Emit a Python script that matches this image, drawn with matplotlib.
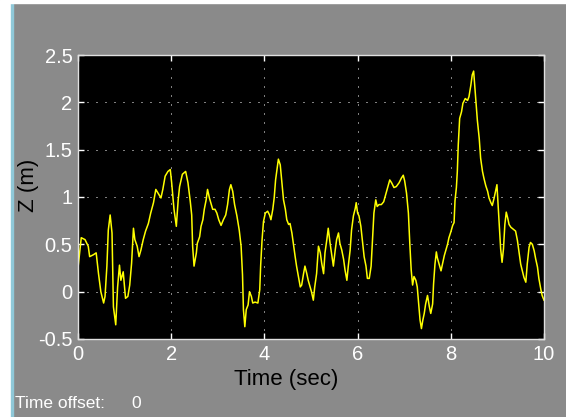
import matplotlib.pyplot as plt
from matplotlib.patches import Rectangle
from matplotlib.ticker import FormatStrFormatter, FuncFormatter

# --- scope trace ---
time_sec = [
    0.00, 0.07, 0.15, 0.22, 0.25, 0.33, 0.39, 0.44, 0.49, 0.55,
    0.58, 0.62, 0.65, 0.69, 0.73, 0.76, 0.81, 0.85, 0.89, 0.92,
    0.97, 1.02, 1.07, 1.11, 1.15, 1.19, 1.22, 1.27, 1.31, 1.35,
    1.40, 1.45, 1.51, 1.56, 1.62, 1.67, 1.72, 1.78, 1.82, 1.87,
    1.93, 1.98, 2.01, 2.06, 2.11, 2.15, 2.18, 2.24, 2.31, 2.36,
    2.41, 2.44, 2.46, 2.49, 2.54, 2.56, 2.61, 2.64, 2.68, 2.71,
    2.75, 2.78, 2.82, 2.85, 2.89, 2.94, 2.98, 3.02, 3.07, 3.12,
    3.17, 3.21, 3.25, 3.28, 3.32, 3.36, 3.41, 3.46, 3.50, 3.53,
    3.55, 3.58, 3.61, 3.65, 3.68, 3.72, 3.75, 3.80, 3.86, 3.90,
    3.92, 3.95, 3.98, 4.02, 4.07, 4.11, 4.14, 4.18, 4.21, 4.24,
    4.27, 4.30, 4.34, 4.37, 4.41, 4.45, 4.48, 4.52, 4.55, 4.59,
    4.62, 4.66, 4.69, 4.73, 4.77, 4.80, 4.84, 4.87, 4.91, 4.94,
    4.98, 5.01, 5.05, 5.08, 5.12,
    5.16, 5.20, 5.23, 5.27, 5.30, 5.34, 5.37, 5.41, 5.45, 5.48,
    5.52, 5.55, 5.59, 5.62, 5.66, 5.70, 5.73, 5.77, 5.80, 5.84,
    5.87, 5.91, 5.95, 5.97, 6.00, 6.03, 6.07, 6.10, 6.14, 6.18,
    6.21, 6.25, 6.29, 6.32, 6.35, 6.39, 6.42, 6.46, 6.51, 6.56,
    6.61, 6.66, 6.69, 6.73, 6.78, 6.83, 6.89, 6.94, 6.98, 7.01,
    7.05, 7.09, 7.12, 7.15, 7.18, 7.21, 7.25, 7.28, 7.31, 7.34,
    7.37, 7.40, 7.43, 7.46, 7.50, 7.54, 7.57, 7.61, 7.63, 7.66,
    7.69, 7.71, 7.75, 7.79, 7.82, 7.86, 7.89, 7.93, 7.96, 8.00,
    8.04, 8.07, 8.09, 8.12, 8.14, 8.16, 8.19, 8.23, 8.26, 8.31,
    8.36, 8.39, 8.43, 8.46, 8.49, 8.51, 8.54, 8.57, 8.61, 8.64,
    8.68, 8.71, 8.75, 8.79, 8.82, 8.86, 8.89, 8.93, 8.96, 8.99,
    9.01, 9.04, 9.07, 9.10, 9.13, 9.16, 9.19, 9.22, 9.25, 9.29,
    9.34, 9.39, 9.43, 9.46, 9.50, 9.54, 9.57, 9.61, 9.64, 9.68,
    9.71, 9.75, 9.79, 9.82, 9.86, 9.89, 9.93, 9.96, 10.0,
]
z_m = [
    0.25, 0.57, 0.55, 0.48, 0.37, 0.39, 0.41, 0.19, 0.00, -0.12,
    -0.05, 0.27, 0.65, 0.81, 0.62, -0.16, -0.35, 0.05, 0.28, 0.12,
    0.21, -0.07, -0.05, 0.07, 0.30, 0.67, 0.55, 0.48, 0.37, 0.44,
    0.55, 0.64, 0.72, 0.83, 0.94, 1.08, 1.04, 0.99, 1.08, 1.22,
    1.27, 1.29, 1.15, 0.87, 0.69, 0.97, 1.11, 1.24, 1.27, 1.15,
    0.95, 0.81, 0.48, 0.27, 0.41, 0.51, 0.58, 0.69, 0.76, 0.87,
    0.97, 1.08, 0.99, 0.94, 0.87, 0.87, 0.83, 0.76, 0.70, 0.76,
    0.81, 0.92, 1.08, 1.13, 1.06, 0.92, 0.80, 0.65, 0.48, 0.18,
    -0.19, -0.37, -0.19, -0.14, 0.00, -0.05, -0.12, -0.11, -0.12, 0.02,
    0.28, 0.55, 0.74, 0.83, 0.85, 0.81, 0.76, 0.87, 0.99, 1.18,
    1.29, 1.40, 1.34, 1.18, 0.97, 0.87, 0.76, 0.71, 0.72, 0.62,
    0.51, 0.37, 0.27, 0.16, 0.05, 0.07, 0.19, 0.27, 0.19, 0.12,
    0.05, 0.00, -0.09, 0.05, 0.19,
    0.48, 0.41, 0.30, 0.19, 0.41, 0.55, 0.67, 0.51, 0.37, 0.27,
    0.44, 0.55, 0.62, 0.51, 0.44, 0.34, 0.23, 0.12, 0.27, 0.44,
    0.65, 0.80, 0.88, 0.94, 0.83, 0.80, 0.69, 0.55, 0.37, 0.27,
    0.14, 0.14, 0.27, 0.55, 0.83, 0.97, 0.90, 0.92, 0.92, 0.95,
    1.04, 1.13, 1.18, 1.15, 1.10, 1.11, 1.15, 1.20, 1.23, 1.17,
    1.04, 0.83, 0.51, 0.23, 0.07, 0.16, 0.12, 0.05, -0.12, -0.30,
    -0.39, -0.30, -0.23, -0.13, -0.04, -0.16, -0.23, -0.13, 0.08, 0.29,
    0.42, 0.36, 0.29, 0.22, 0.29, 0.38, 0.43, 0.50, 0.57, 0.63,
    0.70, 0.73, 0.96, 1.10, 1.27, 1.55, 1.83, 1.90, 1.99, 2.04,
    2.02, 2.06, 2.18, 2.29, 2.33, 2.20, 2.01, 1.81, 1.62, 1.41,
    1.27, 1.20, 1.12, 1.06, 0.99, 0.94, 0.91, 0.99, 1.06, 1.13,
    0.96, 0.71, 0.45, 0.31, 0.45, 0.71, 0.84, 0.78, 0.71, 0.68,
    0.66, 0.64, 0.54, 0.43, 0.29, 0.21, 0.15, 0.10, 0.29, 0.47,
    0.52, 0.50, 0.43, 0.35, 0.26, 0.14, 0.03, -0.04, -0.09,
]
x_ticks = [0, 2, 4, 6, 8, 10]
y_ticks = [-0.5, 0, 0.5, 1, 1.5, 2, 2.5]

W, H = 566, 417
bg = "#8a8a8a"
tick_font = ["Liberation Sans Narrow", "Liberation Sans", "DejaVu Sans"]
label_font = ["Liberation Sans", "DejaVu Sans"]

fig = plt.figure(figsize=(W / 100, H / 100), dpi=100)
fig.patch.set_facecolor(bg)

# window edge on the left / top
fig.add_artist(Rectangle((0, 0), 11 / W, 1, transform=fig.transFigure, color="white", zorder=0))
fig.add_artist(Rectangle((11 / W, 0), 2 / W, 1, transform=fig.transFigure, color="#8fc8d8", zorder=0))
fig.add_artist(Rectangle((0, 1 - 3 / H), 1, 3 / H, transform=fig.transFigure, color="white", zorder=0))

ax = fig.add_axes([78 / W, (H - 339) / H, (544 - 78) / W, (339 - 55) / H])
ax.set_facecolor("black")

ax.plot(time_sec, z_m, color="#ffff00", linewidth=1.1)

ax.set_xlim(0, 10)
ax.set_ylim(-0.5, 2.5)
ax.set_xticks(x_ticks)
ax.set_yticks(y_ticks)
ax.yaxis.set_major_formatter(FuncFormatter(lambda v, p: "%g" % v))

ax.grid(True, color="white", linestyle=(0, (1, 8)), linewidth=0.72)
ax.tick_params(which="both", direction="in", length=4, width=1, color="white",
               top=True, right=True, labelcolor="white", pad=4)
for lab in ax.get_xticklabels() + ax.get_yticklabels():
    lab.set_family(tick_font)
    lab.set_fontsize(14.5)
for sp in ax.spines.values():
    sp.set_color("#e0e0e0")
    sp.set_linewidth(1)

ax.set_xlabel("Time (sec)", family=label_font, fontsize=16, color="black", va="center")
ax.xaxis.set_label_coords(0.446, -0.141)
ax.set_ylabel("Z (m)", family=label_font, fontsize=16, color="black", va="center")
ax.yaxis.set_label_coords(-0.107, 0.542)

fig.text(15 / W, 1 - 404 / H, "Time offset:", family=label_font, fontsize=12.5,
         color="white", ha="left", va="center")
fig.text(131 / W, 1 - 404 / H, "0", family=label_font, fontsize=12.5,
         color="white", ha="left", va="center")

fig.savefig("out.png", dpi=100, facecolor=fig.get_facecolor())
